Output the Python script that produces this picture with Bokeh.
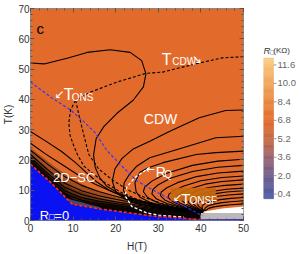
import numpy as np
from bokeh.plotting import figure
from bokeh.layouts import row
from bokeh.models import LinearAxis, SingleIntervalTicker, CustomJSTickFormatter
from bokeh.core.properties import value
from bokeh.embed import file_html
from bokeh.resources import INLINE

# ---------------- values ----------------
x_ticks = [0, 10, 20, 30, 40, 50]
y_ticks = [0, 10, 20, 30, 40, 50, 60, 70]
cbar_ticks = [0.4, 2.0, 3.6, 5.2, 6.8, 8.4, 10.0, 11.6]
cbar_labels = ["0.4", "2.0", "3.6", "5.2", "6.8", "8.4", "10.0", "11.6"]
cbar_low, cbar_high = 0.0, 12.2
cbar_stop_vals = [0.0, 2.0, 3.6, 5.2, 6.8, 8.4, 10.0, 12.2]
cbar_stop_cols = ["#4b5aa6", "#705f8c", "#9a6470", "#c66a44", "#e26b2c", "#ea8640", "#f0a65c", "#f7cc86"]

# superconducting (R=0) boundary
sc_H = [0, 4.8, 9.8, 16.4, 28, 39.7]
sc_T = [18.6, 12.5, 5.4, 3.8, 1.6, 0.3]

# dense-contour (dark) band: upper edges of increasingly dark layers
band_H = [0, 5, 10, 15, 20, 25, 30, 35, 40]
band1_T = [24.0, 18.5, 13.5, 10.0, 7.8, 6.0, 4.6, 3.7, 3.1]
band2_T = [22.0, 16.0, 10.5, 8.0, 6.3, 5.0, 4.0, 3.3, 2.9]
band3_T = [20.5, 14.0, 8.5, 6.6, 5.4, 4.4, 3.6, 3.0, 2.7]
band4_T = [19.2, 12.8, 7.0, 5.6, 4.7, 3.9, 3.2, 2.7, 2.5]
# low-resistance (bluish) sliver just above the R=0 edge
tint_H = [8.3, 10.0, 12.0, 14.0, 16.4, 16.4, 12.0, 9.8]
tint_T = [7.4, 6.7, 6.0, 5.2, 4.4, 3.8, 4.9, 5.4]

# solid contour lines
cA_H = [0, 3.2, 8.6, 13.3, 18.7, 23.4, 26.1, 27.1, 26.5, 24.1, 20.3, 17.2, 15.4, 14.8, 15.2, 16.3, 18.0, 20.3, 23.0, 26.5, 30, 35, 40]
cA_T = [52.0, 51.7, 53.6, 55.5, 56.4, 55.5, 52.8, 48.4, 44.1, 39.7, 35.4, 31.0, 27.0, 21.5, 17.5, 14.0, 11.2, 9.3, 7.7, 6.3, 5.2, 4.0, 3.1]
s1_H = [0, 3.5, 7.3, 10.5, 13, 15.5, 18.5, 22, 26, 30, 35, 40]
s1_T = [29.4, 26.3, 22.8, 19.2, 16.0, 12.8, 10.0, 7.8, 6.0, 4.9, 3.8, 3.0]
s2_H = [0, 3.5, 7.3, 11, 15.2, 20, 25, 30, 35, 40]
s2_T = [25.5, 22.0, 18.6, 15.2, 12.0, 9.0, 6.7, 4.9, 3.7, 2.8]
s3_H = [0, 4, 8, 12, 16, 20, 25, 30, 35, 40]
s3_T = [23.2, 18.6, 14.5, 11.6, 9.6, 8.0, 6.2, 4.6, 3.5, 2.8]
s4_T = [21.8, 16.8, 12.4, 9.8, 8.2, 7.0, 5.6, 4.3, 3.4, 2.7]
s5_T = [20.8, 15.6, 11.0, 8.6, 7.2, 6.2, 5.1, 4.0, 3.2, 2.7]
s6_T = [20.0, 14.7, 9.8, 7.6, 6.4, 5.6, 4.6, 3.7, 3.0, 2.6]
s7_T = [19.4, 14.0, 8.8, 6.7, 5.7, 5.0, 4.1, 3.4, 2.8, 2.5]

u1_H = [50, 45.8, 39.6, 32.6, 28, 24, 21.5, 19.8, 19.2, 20, 22, 25, 30, 35, 40]
u1_T = [36.5, 36.3, 33.9, 29.4, 26.2, 23.5, 20.5, 17.0, 13.0, 9.5, 7.2, 5.6, 4.2, 3.3, 2.8]
u2_H = [50, 43.5, 35.8, 28, 25, 23.2, 22, 21.8, 23, 25.5, 30, 35, 40]
u2_T = [27.8, 27.3, 24.0, 20.7, 18.0, 15.2, 12.5, 9.9, 7.3, 5.6, 4.4, 3.4, 2.8]
u3_H = [50, 43.5, 38.9, 31.1, 27.5, 25.7, 24.5, 24.8, 25.7, 28, 31.1, 35, 40]
u3_T = [22.9, 22.4, 21.8, 19.1, 17.3, 15.9, 12.5, 9.5, 7.7, 6.0, 4.9, 3.9, 3.0]
u4_H = [50, 44, 38, 32, 28.5, 26.8, 26.5, 27.5, 30, 34, 38, 40.5]
u4_T = [20.2, 19.6, 18.2, 15.6, 13.0, 11.0, 9.5, 7.6, 5.8, 4.3, 3.2, 2.7]
u5_H = [50, 44, 38, 33, 30, 28.7, 28.5, 29.5, 32, 35.5, 38.5, 40.5]
u5_T = [18.2, 17.6, 16.2, 14.0, 11.8, 10.2, 8.8, 7.2, 5.6, 4.2, 3.2, 2.7]
u6_H = [50, 44, 39, 34.5, 32, 30.7, 30.5, 31.5, 34, 37, 40.5]
u6_T = [16.3, 15.7, 14.5, 12.5, 10.8, 9.4, 8.2, 6.8, 5.2, 3.9, 2.7]
u7_H = [50, 45, 40, 36, 33.7, 32.5, 32.3, 33.3, 35.5, 38, 40.5]
u7_T = [14.7, 14.2, 13.1, 11.4, 9.9, 8.7, 7.6, 6.3, 4.9, 3.7, 2.7]
u8_H = [50, 45, 41, 37.5, 35.4, 34.2, 34, 35, 37, 40.5]
u8_T = [13.4, 12.9, 12.0, 10.5, 9.2, 8.0, 7.0, 5.8, 4.5, 2.7]
u9_H = [50, 45, 41.5, 38.5, 36.8, 35.8, 35.6, 36.6, 38.3, 40.5]
u9_T = [12.0, 11.5, 10.8, 9.5, 8.4, 7.4, 6.5, 5.4, 4.2, 2.8]
u10_H = [50, 46, 42.5, 39.8, 38, 37.2, 37, 37.8, 39.2, 40.5]
u10_T = [10.7, 10.3, 9.6, 8.6, 7.6, 6.8, 6.0, 5.0, 3.9, 2.8]
u11_H = [50, 46, 43, 40.8, 39.2, 38.4, 38.2, 39, 40.5]
u11_T = [9.8, 9.4, 8.8, 7.9, 7.0, 6.2, 5.5, 4.5, 2.9]
u12_H = [50, 46.5, 43.5, 41.5, 40, 39.3, 39.3, 40, 40.6]
u12_T = [8.8, 8.4, 7.9, 7.2, 6.4, 5.7, 5.0, 4.1, 3.0]
u13_H = [50, 47, 44.5, 42.5, 41, 40.3, 40.3, 40.7]
u13_T = [7.6, 7.3, 6.9, 6.3, 5.6, 4.9, 4.0, 3.1]
u14_H = [50, 47, 45, 43, 41.6, 41, 40.8]
u14_T = [6.5, 6.2, 5.9, 5.4, 4.8, 4.1, 3.2]
u15_H = [50, 47, 45, 43, 41.8, 41]
u15_T = [5.5, 5.2, 4.9, 4.5, 4.0, 3.2]

# dashed black lines (T_CDW / T_ONS)
d1_H = [50, 45, 39, 31, 27.1, 20.3, 14.1, 10.6, 9.4, 9.0, 9.3, 10.2, 11, 12.5, 14.8, 17.5, 21, 25, 30, 35, 40]
d1_T = [54.1, 53.7, 51.8, 49.0, 48.6, 45.7, 42.4, 39.7, 36.5, 32.2, 28.0, 24.5, 21.8, 18.0, 15.3, 12.5, 9.5, 7.0, 5.0, 3.6, 2.8]
d2_H = [10.6, 11.5, 12.5, 13.2, 13.7, 16, 19.5, 23, 27, 31, 35, 40]
d2_T = [39.7, 34.0, 28.3, 24.5, 21.8, 17.0, 13.1, 10.0, 7.5, 5.5, 4.2, 3.1]
# blue dashed line
blue_H = [0, 5, 9.4, 13, 15.2, 18, 21.8, 25, 29.6, 34.2, 40.3]
blue_T = [45.7, 40.5, 36.5, 32.0, 28.9, 23.0, 17.5, 13.0, 9.4, 6.1, 1.6]
# white dashed R_Q line
rq_H = [28, 24.5, 22.6, 22.2, 23.8, 27.3, 30.3, 36]
rq_T = [17.5, 14.2, 11.0, 8.2, 4.6, 2.5, 1.7, 1.1]
# white / grey strip at high field, low T
white_H = [40.8, 45, 50, 50, 40.8]
white_T = [3.0, 4.0, 4.6, 2.5, 2.5]
grey_H = [39.5, 50]
grey_T = [0.5, 2.5]

ORANGE = "#e26b2c"
FONT = value("Liberation Sans")
ARROWFONT = value("DejaVu Sans")

# ---------------- main figure ----------------
p = figure(width=250, height=254, x_range=(0, 50), y_range=(0, 70),
           output_backend="svg", toolbar_location=None,
           min_border_left=29, min_border_right=7, min_border_top=8, min_border_bottom=32)
p.background_fill_color = ORANGE
p.border_fill_color = "white"
p.outline_line_color = "#8a8a8a"
p.xgrid.visible = False
p.ygrid.visible = False

p.quad(left=grey_H[0], right=grey_H[1], bottom=grey_T[0], top=grey_T[1], fill_color="#b9b9b9", line_color=None)
p.patch(white_H, white_T, fill_color="white", line_color=None)

blue_xs = [0] + sc_H + [50, 50]
blue_ys = [0] + sc_T + [0.4, 0]
p.patch(blue_xs, blue_ys, fill_color="#0a12f2", line_color=None)

for bt, a in [(band1_T, 0.28), (band2_T, 0.35), (band3_T, 0.5), (band4_T, 0.8)]:
    p.patch(band_H + sc_H[::-1], bt + sc_T[::-1], fill_color="black", fill_alpha=a, line_color=None)
p.patch(tint_H, tint_T, fill_color="#7c7cb8", fill_alpha=0.55, line_color=None)

solid_xs = [cA_H, s1_H, s2_H, s3_H, s3_H, s3_H, s3_H, s3_H,
            u1_H, u2_H, u3_H, u4_H, u5_H, u6_H, u7_H, u8_H, u9_H, u10_H, u11_H, u12_H, u13_H, u14_H, u15_H]
solid_ys = [cA_T, s1_T, s2_T, s3_T, s4_T, s5_T, s6_T, s7_T,
            u1_T, u2_T, u3_T, u4_T, u5_T, u6_T, u7_T, u8_T, u9_T, u10_T, u11_T, u12_T, u13_T, u14_T, u15_T]
p.multi_line(solid_xs, solid_ys, line_color="black", line_width=1.1)

p.multi_line([d1_H, d2_H], [d1_T, d2_T], line_color="black", line_width=1.1, line_dash="3 2")
p.line(blue_H, blue_T, line_color="#3030ff", line_width=1.1, line_dash="3 2")
p.line(rq_H, rq_T, line_color="white", line_width=1.3, line_dash="3 2")
p.line(sc_H, sc_T, line_color="#ff2a2a", line_width=1.6, line_dash="3 2")

p.quad(left=32.9, right=43.5, bottom=6.5, top=10.8, fill_color="#c4680e", fill_alpha=0.92, line_color=None)

def txt(fig, x, y, s, size, color="white", font=FONT, style="normal", baseline="alphabetic"):
    fig.text(x=[x], y=[y], text=[s], text_font=font, text_font_size=size, text_color=color,
             text_baseline=baseline, text_align="left", text_font_style=style)

txt(p, 1.4, 63.4, "c", "15px", color="black")
txt(p, 5.6, 41.9, "↙", "12px", font=ARROWFONT)
txt(p, 7.8, 41.5, "T", "16px")
txt(p, 9.7, 40.7, "ONS", "10px")
txt(p, 30.8, 53.0, "T", "16px")
txt(p, 33.3, 52.5, "CDW", "10px")
txt(p, 37.9, 53.3, "↘", "12px", font=ARROWFONT)
txt(p, 26.6, 33.4, "CDW", "14px")
txt(p, 5.3, 14.2, "2D−SC", "13px")
txt(p, 2.2, 1.64, "R", "13px")
txt(p, 4.2, 1.15, "□", "7px", font=ARROWFONT)
txt(p, 5.6, 1.64, "=0", "13px")
txt(p, 27.0, 16.7, "←", "11px", font=ARROWFONT)
txt(p, 29.4, 16.0, "R", "14px")
txt(p, 31.4, 15.05, "Q", "10px")
txt(p, 33.4, 7.5, "↙", "11px", font=ARROWFONT)
txt(p, 35.4, 7.2, "T", "15px")
txt(p, 37.3, 6.55, "ONSF", "10px")

for ax, ticks in [(p.xaxis[0], x_ticks), (p.yaxis[0], y_ticks)]:
    ax.ticker = SingleIntervalTicker(interval=ticks[1] - ticks[0], num_minor_ticks=5)
    ax.major_tick_in = 4
    ax.major_tick_out = 0
    ax.minor_tick_in = 2
    ax.minor_tick_out = 0
    ax.major_tick_line_color = "#555555"
    ax.minor_tick_line_color = "#555555"
    ax.axis_line_color = None
    ax.major_label_text_font = "Liberation Sans"
    ax.major_label_text_font_size = "10px"
    ax.major_label_text_color = "#333333"
    ax.axis_label_text_font = "Liberation Sans"
    ax.axis_label_text_font_size = "10px"
    ax.axis_label_text_font_style = "normal"
    ax.axis_label_text_color = "#333333"
p.xaxis[0].axis_label = "H(T)"
p.yaxis[0].axis_label = "T(K)"
p.xaxis[0].major_label_standoff = 3
p.yaxis[0].major_label_standoff = 1
p.xaxis[0].axis_label_standoff = 6
p.yaxis[0].axis_label_standoff = 1

blank = CustomJSTickFormatter(code="return ''")
for loc, ticks in [("above", x_ticks), ("right", y_ticks)]:
    a = LinearAxis(ticker=SingleIntervalTicker(interval=ticks[1] - ticks[0], num_minor_ticks=5),
                   formatter=blank,
                   major_tick_in=4, major_tick_out=0, minor_tick_in=2, minor_tick_out=0,
                   major_tick_line_color="#555555", minor_tick_line_color="#555555",
                   axis_line_color=None, major_label_standoff=0)
    p.add_layout(a, loc)

# ---------------- colour bar drawn in its own small figure ----------------
px_per_unit = 142.0 / (cbar_high - cbar_low)
q_ylo = cbar_low - 22.0 / px_per_unit
q_yhi = cbar_high + 50.0 / px_per_unit

stops = np.array([[int(c[i:i + 2], 16) for i in (1, 3, 5)] for c in cbar_stop_cols], dtype=float)
edges = np.linspace(cbar_low, cbar_high, 129)
mids = 0.5 * (edges[:-1] + edges[1:])
pal = ["#%02x%02x%02x" % tuple(int(round(np.interp(g, cbar_stop_vals, stops[:, k]))) for k in range(3)) for g in mids]

q = figure(width=50, height=254, x_range=(0, 34), y_range=(q_ylo, q_yhi),
           output_backend="svg", toolbar_location=None,
           min_border_left=13, min_border_right=3, min_border_top=8, min_border_bottom=32)
q.axis.visible = False
q.grid.visible = False
q.outline_line_color = None
q.background_fill_color = "white"
q.border_fill_color = "white"
q.quad(left=0, right=10, bottom=edges[:-1], top=edges[1:], fill_color=pal, line_color=pal, line_width=0.5)
q.segment(x0=10, x1=13, y0=cbar_ticks, y1=cbar_ticks, line_color="#9a9a9a", line_width=1)
q.text(x=14, y=cbar_ticks, text=cbar_labels, text_font=FONT, text_font_size="9.5px",
       text_color="#666666", text_baseline="middle", text_align="left")
t_base = cbar_high + 8.0 / px_per_unit
txt(q, 0.0, t_base, "R", "9.5px", color="#333333", style="italic")
txt(q, 6.3, t_base - 1.5 / px_per_unit, "□", "5px", color="#333333", font=ARROWFONT)
txt(q, 9.8, t_base, "(KΩ)", "8px", color="#333333")

layout = row(p, q)
html = file_html(layout, INLINE)
html = html.replace("</head>", "<style>html,body{margin:0;padding:0;}</style></head>", 1)
open("out.html", "w").write(html)
